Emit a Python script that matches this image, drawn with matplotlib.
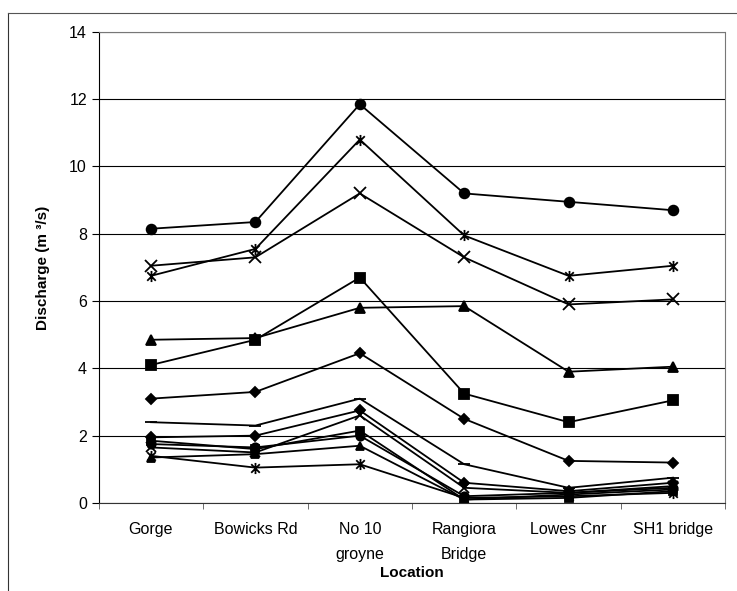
import matplotlib
matplotlib.use("Agg")
import matplotlib.pyplot as plt
from matplotlib.lines import Line2D
from matplotlib.path import Path
import numpy as np

plt.rcParams["font.family"] = ["Liberation Sans", "DejaVu Sans"]

locations = ["Gorge", "Bowicks Rd", "No 10\ngroyne", "Rangiora\nBridge",
             "Lowes Cnr", "SH1 bridge"]

# discharge (m3/s), one list per survey
circle_hi = [8.15, 8.35, 11.85, 9.2, 8.95, 8.7]
star_hi = [6.75, 7.55, 10.8, 7.95, 6.75, 7.05]
cross_hi = [7.05, 7.3, 9.2, 7.3, 5.9, 6.05]
tri_hi = [4.85, 4.9, 5.8, 5.85, 3.9, 4.05]
square_hi = [4.1, 4.85, 6.7, 3.25, 2.4, 3.05]
diamond_hi = [3.1, 3.3, 4.45, 2.5, 1.25, 1.2]
dash_mid = [2.4, 2.3, 3.1, 1.15, 0.45, 0.75]
diamond_lo = [1.95, 2.0, 2.75, 0.6, 0.35, 0.6]
cross_lo = [1.65, 1.5, 2.6, 0.45, 0.3, 0.5]
square_lo = [1.85, 1.6, 2.15, 0.1, 0.15, 0.35]
circle_lo = [1.75, 1.65, 2.0, 0.2, 0.3, 0.45]
tri_lo = [1.35, 1.45, 1.7, 0.1, 0.25, 0.4]
star_lo = [1.4, 1.05, 1.15, 0.15, 0.2, 0.3]

# Excel-style star: an x with a vertical bar through it
STAR = Path([(-1, -1), (1, 1), (-1, 1), (1, -1), (0, -1.3), (0, 1.3)],
            [Path.MOVETO, Path.LINETO] * 3)

series = [
    (circle_hi, "o", 7), (star_hi, STAR, 8), (cross_hi, "x", 8),
    (tri_hi, "^", 7), (square_hi, "s", 6.5), (diamond_hi, "D", 5.5),
    (dash_mid, "_", 8), (diamond_lo, "D", 5), (cross_lo, "x", 7),
    (square_lo, "s", 6), (circle_lo, "o", 6), (tri_lo, "^", 6),
    (star_lo, STAR, 8),
]

fig = plt.figure(figsize=(7.37, 5.91), dpi=100)
ax = fig.add_axes([0.134, 0.149, 0.85, 0.797])

x = np.arange(len(locations))
for vals, mk, ms in series:
    ax.plot(x, vals, color="black", linewidth=1.3, marker=mk, markersize=ms,
            markerfacecolor="black", markeredgecolor="black",
            markeredgewidth=1.3)

ax.set_xlim(-0.5, len(locations) - 0.5)
ax.set_ylim(0, 14)
ax.set_yticks(np.arange(0, 15, 2))
ax.set_xticks(x)
ax.set_xticklabels(locations, fontsize=11.5, linespacing=1.8)
ax.set_xticks(np.arange(-0.5, len(locations), 1), minor=True)
ax.tick_params(axis="x", which="major", length=0, pad=14)
ax.tick_params(axis="x", which="minor", length=4, direction="out", color="#555")
ax.tick_params(axis="y", labelsize=11.5, length=5, direction="out")
ax.grid(axis="y", color="black", linewidth=0.8)
ax.set_axisbelow(True)

ax.spines["left"].set_color("black")
ax.spines["bottom"].set_color("#333")
for s in ("top", "right"):
    ax.spines[s].set_color("#777")
    ax.spines[s].set_linestyle((0, (2, 1)))
    ax.spines[s].set_linewidth(0.8)

ax.set_ylabel("Discharge (m ³/s)", fontsize=11, fontweight="bold", labelpad=14)
ax.set_xlabel("Location", fontsize=11, fontweight="bold", labelpad=3)

# scanned page border
fig.add_artist(Line2D([0.011, 0.011], [0.0, 0.978], transform=fig.transFigure,
                      color="#333", linewidth=0.8))
fig.add_artist(Line2D([0.011, 1.0], [0.978, 0.978], transform=fig.transFigure,
                      color="#555", linewidth=0.8))

fig.savefig("out.png", dpi=100)
